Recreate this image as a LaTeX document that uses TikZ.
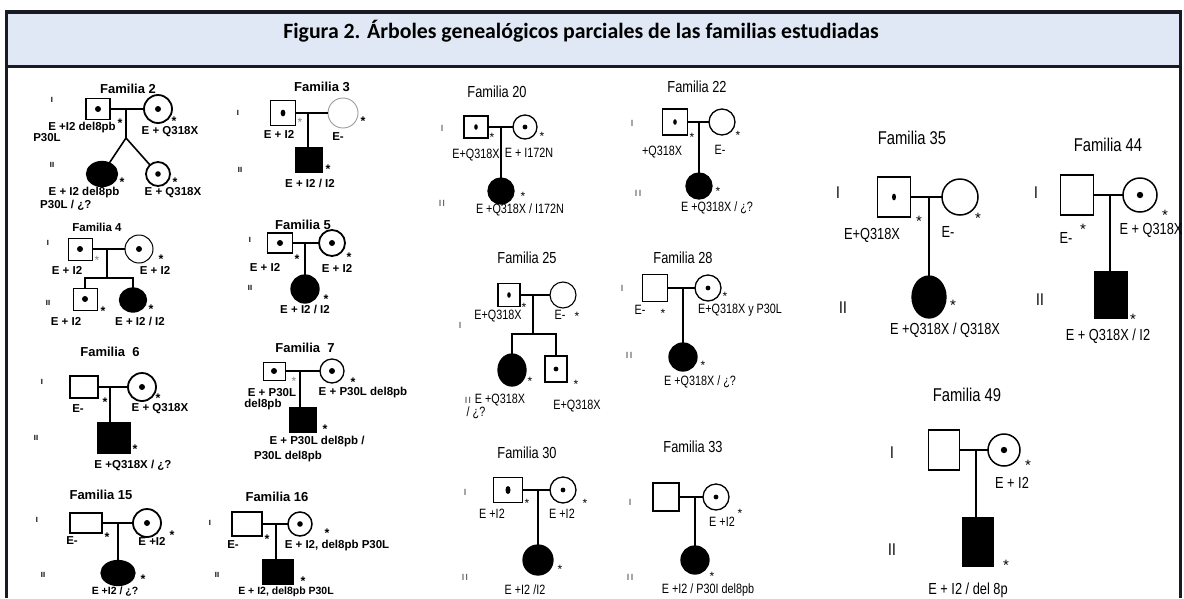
\documentclass[tikz,border=0pt]{standalone}
\usepackage{fontspec}
\setmainfont{Liberation Sans}
\newfontfamily\nar[FakeStretch=0.8]{Liberation Sans}
\newfontfamily\tit{Carlito}
\usetikzlibrary{shapes.geometric}
\definecolor{hdr}{HTML}{DFE8F4}
\definecolor{bord}{HTML}{1A1A24}
\tikzset{
  ind/.style={draw, inner sep=0pt, outer sep=0pt, line width=1.3pt},
  sq/.style 2 args={rectangle, minimum width=#1, minimum height=#2},
  ci/.style={circle, minimum size=#1},
  el/.style 2 args={ellipse, minimum width=#1, minimum height=#2},
  dot/.style={path picture={\fill (path picture bounding box.center) circle[radius=#1];}},
  edot/.style 2 args={path picture={\fill (path picture bounding box.center) ellipse[x radius=#1, y radius=#2];}},
  aff/.style={fill=black},
  lt/.style={font=\bfseries\fontsize{13}{14}\selectfont, inner sep=0pt},
  ll/.style={font=\bfseries\fontsize{11.5}{13}\selectfont, inner sep=0pt},
  lb/.style={font=\bfseries\fontsize{10.5}{12}\selectfont, inner sep=0pt},
  lr/.style={font=\bfseries\fontsize{7.5}{8}\selectfont, inner sep=0pt},
  la/.style={font=\bfseries\fontsize{12.5}{12.5}\selectfont, inner sep=0pt, yshift=-0.2em},
  mt/.style={font=\nar\fontsize{16}{18}\selectfont, inner sep=0pt},
  ml/.style={font=\nar\fontsize{13.5}{15}\selectfont, inner sep=0pt},
  mr/.style={font=\nar\fontsize{9}{10}\selectfont, inner sep=0pt},
  ma/.style={font=\fontsize{12}{12}\selectfont, inner sep=0pt, yshift=-0.2em},
  rt/.style={font=\nar\fontsize{18.5}{20}\selectfont, inner sep=0pt},
  rl/.style={font=\nar\fontsize{16}{18}\selectfont, inner sep=0pt},
  rr/.style={font=\nar\fontsize{17}{18}\selectfont, inner sep=0pt},
  ra/.style={font=\fontsize{15}{15}\selectfont, inner sep=0pt, yshift=-0.2em},
  lk/.style={line width=1.6pt},
  mk/.style={line width=1.1pt},
}
\begin{document}
\begin{tikzpicture}[x=1pt,y=-1pt]
\useasboundingbox (0,0) rectangle (1184,598);
% header
\fill[hdr] (6.5,11.5) rectangle (1180.5,66.5);
\draw[bord, line width=4pt] (5,11.5) -- (1182,11.5);
\draw[bord, line width=3pt] (6.5,66.5) -- (1180.5,66.5);
\draw[bord, line width=3pt] (6.5,10) -- (6.5,598);
\draw[bord, line width=3pt] (1180.5,10) -- (1180.5,598);
\node[font=\tit\bfseries\fontsize{21.8}{24}\selectfont, inner sep=0pt, anchor=base] (title) at (581,38) {Figura 2. Árboles genealógicos parciales de las familias estudiadas};

% ===== Familia 2
\node[lt] (t2) at (128,89) {Familia 2};
\node[lr] (r2a) at (52,100) {I};
\node[lr] (r2b) at (52,165) {II};
\node[ind, sq={24pt}{21pt}, dot=3pt, line width=1.4pt] (f2a) at (98,109) {};
\node[ind, ci=28pt, dot=3pt, line width=1.8pt] (f2b) at (158,109) {};
\coordinate (f2m) at (126,109);
\coordinate (f2f) at (126,138);
\node[ind, el={31pt}{25pt}, aff] (f2c) at (102,174) {};
\node[ind, ci=24pt, dot=2.8pt, line width=1.8pt] (f2d) at (158,174) {};
\draw[lk] (f2a) -- (f2b);
\draw[lk] (f2m) -- (f2f) -- (f2c);
\draw[lk] (f2f) -- (f2d);
\node[la] (s2a) at (120,121) {*};
\node[la] (s2b) at (174,119) {*};
\node[la] (s2c) at (122,180) {*};
\node[la] (s2d) at (175,180) {*};
\node[ll] (l2a) at (82,128) {E +I2 del8pb};
\node[ll] (l2b) at (47,138) {P30L};
\node[ll] (l2c) at (170,132) {E + Q318X};
\node[ll] (l2d) at (84,193) {E + I2 del8pb};
\node[ll, anchor=west] (l2e) at (40,205) {P30L / ¿?};
\node[ll] (l2f) at (173,193) {E + Q318X};

% ===== Familia 3
\node[lt] (t3) at (322,87) {Familia 3};
\node[lr] (r3a) at (238,113) {I};
\node[lr] (r3b) at (240,170) {II};
\node[ind, sq={25pt}{25pt}, edot={2.4pt}{3.4pt}, line width=1.2pt] (f3a) at (283,113) {};
\node[ind, ci=30pt, draw=gray!80, line width=0.9pt] (f3b) at (343,113) {};
\coordinate (f3m) at (308,113);
\node[ind, sq={26pt}{25pt}, aff] (f3c) at (309,160) {};
\draw[line width=1.2pt] (f3a) -- (f3b);
\draw[line width=2.6pt] (f3m) -- (f3m |- f3c.north);
\node[ma, text=gray] (s3a) at (300,120) {*};
\node[la] (s3b) at (363,119) {*};
\node[la] (s3c) at (328,167) {*};
\node[ll] (l3a) at (279,134) {E + I2};
\node[ll] (l3b) at (338,137) {E-};
\node[ll] (l3c) at (310,183) {E + I2 / I2};

% ===== Familia 4
\node[lt, font=\bfseries\fontsize{11.5}{13}\selectfont] (t4) at (97,227) {Familia 4};
\node[lr] (r4a) at (48,243) {I};
\node[lr] (r4b) at (48,303) {II};
\node[ind, sq={24pt}{22pt}, dot=3pt, line width=1pt] (f4a) at (80,249) {};
\node[ind, ci=28pt, dot=3pt, line width=1pt] (f4b) at (139,249) {};
\coordinate (f4m) at (107,249);
\coordinate (f4s) at (107,278);
\node[ind, sq={24pt}{22pt}, dot=3pt, line width=1pt] (f4c) at (85,299) {};
\node[ind, el={27pt}{24pt}, aff] (f4d) at (133,300) {};
\draw[line width=1.2pt] (f4a) -- (f4b);
\draw[line width=2.4pt] (f4m) -- (f4s);
\draw[line width=2pt] (f4c) |- (f4s) -| (f4d);
\node[ma, text=gray] (s4a) at (97,258) {*};
\node[la] (s4b) at (161,257) {*};
\node[la] (s4c) at (103,309) {*};
\node[la] (s4d) at (151,307) {*};
\node[ll] (l4a) at (67,270) {E + I2};
\node[ll] (l4b) at (155,270) {E + I2};
\node[ll] (l4c) at (66,321) {E + I2};
\node[ll] (l4d) at (140,321) {E + I2 / I2};

% ===== Familia 5
\node[lt] (t5) at (303,225) {Familia 5};
\node[lr] (r5a) at (250,240) {I};
\node[lr] (r5b) at (250,288) {II};
\node[ind, sq={25pt}{20pt}, dot=3pt, line width=1.6pt] (f5a) at (280,243) {};
\node[ind, ci=26pt, dot=3pt, line width=1.8pt] (f5b) at (332,243) {};
\coordinate (f5m) at (305,243);
\node[ind, ci=28pt, aff] (f5c) at (305,289) {};
\draw[lk] (f5a) -- (f5b);
\draw[lk] (f5m) -- (f5c);
\node[la] (s5a) at (297,257) {*};
\node[la] (s5b) at (349,255) {*};
\node[la] (s5c) at (326,297) {*};
\node[ll] (l5a) at (265,267) {E + I2};
\node[ll] (l5b) at (337,268) {E + I2};
\node[ll] (l5c) at (305,309) {E + I2 / I2};

% ===== Familia 6
\node[lt] (t6) at (110,352) {Familia\ \ 6};
\node[lr] (r6a) at (42,382) {I};
\node[lr] (r6b) at (36,438) {II};
\node[ind, sq={28pt}{22pt}, line width=1.6pt] (f6a) at (84,387) {};
\node[ind, ci=28pt, dot=3pt, line width=1.8pt] (f6b) at (142,387) {};
\coordinate (f6m) at (110,387);
\node[ind, sq={32pt}{30pt}, aff] (f6c) at (114,438) {};
\draw[lk] (f6a) -- (f6b);
\draw[line width=2.2pt] (f6m) -- (f6m |- f6c.north);
\node[la] (s6a) at (105,400) {*};
\node[la] (s6b) at (158,396) {*};
\node[la] (s6c) at (135,447) {*};
\node[ll] (l6a) at (78,409) {E-};
\node[ll] (l6b) at (160,409) {E + Q318X};
\node[ll] (l6c) at (133,465) {E +Q318X / ¿?};

% ===== Familia 7
\node[lt] (t7) at (305,348) {Familia\ \ 7};
\node[ind, sq={22pt}{18pt}, dot=3pt, line width=1pt] (f7a) at (274,371) {};
\node[ind, ci=24pt, dot=3pt, line width=1.3pt] (f7b) at (332,371) {};
\coordinate (f7m) at (300,371);
\node[ind, sq={27pt}{24pt}, aff] (f7c) at (303,420) {};
\draw[line width=1.1pt] (f7a) -- (f7b);
\draw[line width=2.4pt] (f7m) -- (f7m |- f7c.north);
\node[ma, text=gray] (s7a) at (294,379) {*};
\node[la] (s7b) at (353,380) {*};
\node[la] (s7c) at (325,427) {*};
\node[ll] (l7a) at (272,393) {E + P30L};
\node[ll] (l7b) at (263,405) {del8pb};
\node[ll] (l7c) at (363,393) {E + P30L del8pb};
\node[ll] (l7d) at (317,442) {E + P30L del8pb /};
\node[ll] (l7e) at (288,457) {P30L del8pb};

% ===== Familia 15
\node[lt] (t15) at (101,495) {Familia 15};
\node[lr] (r15a) at (37,520) {I};
\node[lr] (r15b) at (43,575) {II};
\node[ind, sq={32pt}{20pt}, line width=1.5pt] (f15a) at (86,523) {};
\node[ind, ci=28pt, dot=3pt, line width=1.8pt] (f15b) at (147,523) {};
\coordinate (f15m) at (118,523);
\node[ind, el={34pt}{25pt}, aff] (f15c) at (118,573) {};
\draw[lk] (f15a) -- (f15b);
\draw[lk] (f15m) -- (f15c);
\node[la] (s15a) at (107,535) {*};
\node[la] (s15b) at (172,533) {*};
\node[la] (s15c) at (143,577) {*};
\node[ll] (l15a) at (72,541) {E-};
\node[ll] (l15b) at (152,541) {E +I2};
\node[lb] (l15c) at (115,592) {E +I2 / ¿?};

% ===== Familia 16
\node[lt] (t16) at (277,497) {Familia 16};
\node[lr] (r16a) at (210,523) {I};
\node[lr] (r16b) at (217,575) {II};
\node[ind, sq={30pt}{24pt}, line width=1.2pt] (f16a) at (247,524) {};
\node[ind, ci=24pt, dot=2.8pt, line width=1.5pt] (f16b) at (300,524) {};
\coordinate (f16m) at (276,524);
\node[ind, sq={30pt}{24pt}, aff] (f16c) at (278,572) {};
\draw[lk] (f16a) -- (f16b);
\draw[lk] (f16m) -- (f16m |- f16c.north);
\node[la] (s16a) at (267,537) {*};
\node[la] (s16b) at (327,531) {*};
\node[la] (s16c) at (303,579) {*};
\node[ll] (l16a) at (233,545) {E-};
\node[ll] (l16b) at (337,546) {E + I2, del8pb P30L};
\node[lb] (l16c) at (286,592) {E + I2, del8pb P30L};

% ===== Familia 20
\node[mt] (t20) at (497,92) {Familia 20};
\node[mr] (r20a) at (442,128) {I};
\node[mr] (r20b) at (442,203) {I I};
\node[ind, sq={24pt}{22pt}, edot={1.8pt}{2.8pt}, line width=1.3pt] (f20a) at (476,127) {};
\node[ind, ci=24pt, dot=2.4pt, line width=1.3pt] (f20b) at (525,127) {};
\coordinate (f20m) at (501,127);
\node[ind, ci=26pt, aff] (f20c) at (501,191) {};
\draw[line width=1.8pt] (f20a) -- (f20b);
\draw[mk] (f20m) -- (f20c);
\node[ma] (s20a) at (492,135) {*};
\node[ma] (s20b) at (542,134) {*};
\node[ma] (s20c) at (523,194) {*};
\node[ml] (l20a) at (476,155) {E+Q318X};
\node[ml] (l20b) at (529,153) {E + I172N};
\node[ml] (l20c) at (520,210) {E +Q318X / I172N};

% ===== Familia 22
\node[mt] (t22) at (697,87) {Familia 22};
\node[mr] (r22a) at (632,123) {I};
\node[mr] (r22b) at (638,193) {I I};
\node[ind, sq={25pt}{26pt}, edot={1.8pt}{2.8pt}, line width=1.3pt] (f22a) at (675,122) {};
\node[ind, ci=26pt, line width=1.3pt] (f22b) at (722,122) {};
\coordinate (f22m) at (699,122);
\node[ind, ci=26pt, aff] (f22c) at (699,186) {};
\draw[line width=1.8pt] (f22a) -- (f22b);
\draw[mk] (f22m) -- (f22c);
\node[ma] (s22a) at (692,135) {*};
\node[ma] (s22b) at (738,133) {*};
\node[ma] (s22c) at (718,189) {*};
\node[ml] (l22a) at (662,152) {+Q318X};
\node[ml] (l22b) at (720,150) {E-};
\node[ml] (l22c) at (717,208) {E +Q318X / ¿?};

% ===== Familia 25
\node[mt] (t25) at (527,258) {Familia 25};
\node[mr] (r25a) at (460,325) {I};
\node[mr] (r25b) at (468,400) {I I};
\node[ind, sq={22pt}{23pt}, edot={1.8pt}{2.8pt}, line width=1.3pt] (f25a) at (509,295) {};
\node[ind, ci=26pt, line width=1.1pt] (f25b) at (563,295) {};
\coordinate (f25m) at (533,295);
\coordinate (f25s) at (533,334);
\node[ind, el={28pt}{32pt}, aff] (f25c) at (512,370) {};
\node[ind, sq={22pt}{26pt}, dot=2.4pt, line width=1.3pt] (f25d) at (556,369) {};
\draw[line width=1.8pt] (f25a) -- (f25b);
\draw[line width=2pt] (f25m) -- (f25s);
\draw[line width=2pt] (f25c) |- (f25s) -| (f25d);
\node[ma] (s25a) at (524,305) {*};
\node[ma] (s25b) at (577,314) {*};
\node[ma] (s25c) at (530,379) {*};
\node[ma] (s25d) at (576,382) {*};
\node[ml] (l25a) at (498,316) {E+Q318X};
\node[ml] (l25b) at (560,315) {E-};
\node[ml] (l25c) at (500,400) {E +Q318X};
\node[ml] (l25d) at (476,413) {/ ¿?};
\node[ml] (l25e) at (577,406) {E+Q318X};

% ===== Familia 28
\node[mt] (t28) at (683,258) {Familia 28};
\node[mr] (r28a) at (622,288) {I};
\node[mr] (r28b) at (629,355) {I I};
\node[ind, sq={25pt}{27pt}, line width=1.3pt] (f28a) at (655,288) {};
\node[ind, ci=26pt, dot=2.4pt, line width=1.3pt] (f28b) at (708,288) {};
\coordinate (f28m) at (683,288);
\node[ind, ci=28pt, aff] (f28c) at (683,357) {};
\draw[line width=1.8pt] (f28a) -- (f28b);
\draw[mk] (f28m) -- (f28c);
\node[ma] (s28a) at (663,311) {*};
\node[ma] (s28b) at (725,294) {*};
\node[ma] (s28c) at (703,363) {*};
\node[ml] (l28a) at (640,310) {E-};
\node[ml] (l28b) at (740,310) {E+Q318X y P30L};
\node[ml] (l28c) at (700,382) {E +Q318X / ¿?};

% ===== Familia 30
\node[mt] (t30) at (527,453) {Familia 30};
\node[mr] (r30a) at (465,492) {I};
\node[mr] (r30b) at (465,577) {I I};
\node[ind, sq={29pt}{25pt}, edot={2.5pt}{4pt}, line width=1.3pt] (f30a) at (508,490) {};
\node[ind, ci=26pt, dot=2.4pt, line width=1.3pt] (f30b) at (563,490) {};
\coordinate (f30m) at (538,490);
\node[ind, ci=30pt, aff] (f30c) at (538,560) {};
\draw[line width=1.8pt] (f30a) -- (f30b);
\draw[mk] (f30m) -- (f30c);
\node[ma] (s30a) at (527,501) {*};
\node[ma] (s30b) at (585,501) {*};
\node[ma] (s30c) at (560,567) {*};
\node[ml] (l30a) at (492,514) {E +I2};
\node[ml] (l30b) at (562,514) {E +I2};
\node[ml] (l30c) at (525,590) {E +I2 /I2};

% ===== Familia 33
\node[mt] (t33) at (693,447) {Familia 33};
\node[mr] (r33a) at (630,502) {I};
\node[mr] (r33b) at (630,577) {I I};
\node[ind, sq={26pt}{28pt}, line width=1.3pt] (f33a) at (666,497) {};
\node[ind, ci=26pt, dot=2.4pt, line width=1.3pt] (f33b) at (716,497) {};
\coordinate (f33m) at (695,497);
\node[ind, ci=28pt, aff] (f33c) at (695,560) {};
\draw[line width=1.8pt] (f33a) -- (f33b);
\draw[mk] (f33m) -- (f33c);
\node[ma] (s33a) at (740,511) {*};
\node[ma] (s33b) at (712,574) {*};
\node[ml] (l33a) at (722,522) {E +I2};
\node[ml] (l33b) at (708,590) {E +I2 / P30I del8pb};

% ===== Familia 35
\node[rt] (t35) at (912,138) {Familia 35};
\node[rr] (r35a) at (838,193) {I};
\node[rr] (r35b) at (843,308) {II};
\node[ind, sq={33pt}{40pt}, edot={2pt}{3.4pt}, line width=1.5pt] (f35a) at (894,197) {};
\node[ind, ci=36pt, line width=1.5pt] (f35b) at (960,197) {};
\coordinate (f35m) at (929,197);
\node[ind, el={34pt}{42pt}, aff] (f35c) at (929,297) {};
\draw[line width=1.8pt] (f35a) -- (f35b);
\draw[mk] (f35m) -- (f35c);
\node[ra] (s35a) at (919,219) {*};
\node[ra] (s35b) at (978,216) {*};
\node[ra] (s35c) at (953,303) {*};
\node[rl] (l35a) at (872,235) {E+Q318X};
\node[rl] (l35b) at (948,232) {E-};
\node[rl] (l35c) at (945,330) {E +Q318X / Q318X};

% ===== Familia 44
\node[rt] (t44) at (1108,145) {Familia 44};
\node[rr] (r44a) at (1036,193) {I};
\node[rr] (r44b) at (1040,300) {II};
\node[ind, sq={33pt}{40pt}, line width=1.5pt] (f44a) at (1077,195) {};
\node[ind, ci=34pt, dot=3.2pt, line width=1.5pt] (f44b) at (1140,195) {};
\coordinate (f44m) at (1110,195);
\node[ind, sq={33pt}{47pt}, aff] (f44c) at (1111,295) {};
\draw[line width=1.8pt] (f44a) -- (f44b);
\draw[mk] (f44m) -- (f44m |- f44c.north);
\node[ra] (s44a) at (1083,227) {*};
\node[ra] (s44b) at (1165,213) {*};
\node[ra] (s44c) at (1133,317) {*};
\node[rl] (l44a) at (1066,238) {E-};
\node[rl] (l44b) at (1151,230) {E + Q318X};
\node[rl] (l44c) at (1108,336) {E + Q318X / I2};

% ===== Familia 49
\node[rt] (t49) at (967,395) {Familia 49};
\node[rr] (r49a) at (892,453) {I};
\node[rr] (r49b) at (892,550) {II};
\node[ind, sq={31pt}{40pt}, line width=1.5pt] (f49a) at (944,450) {};
\node[ind, ci=32pt, dot=3.2pt, line width=1.5pt] (f49b) at (1004,450) {};
\coordinate (f49m) at (976,450);
\node[ind, sq={31pt}{49pt}, aff] (f49c) at (978,542) {};
\draw[line width=2.6pt] (f49a) -- (f49b);
\draw[mk] (f49m) -- (f49m |- f49c.north);
\node[ra] (s49a) at (1028,463) {*};
\node[ra] (s49b) at (1006,563) {*};
\node[rl] (l49a) at (1012,483) {E + I2};
\node[rl] (l49b) at (968,590) {E + I2 / del 8p};
\end{tikzpicture}
\end{document}
